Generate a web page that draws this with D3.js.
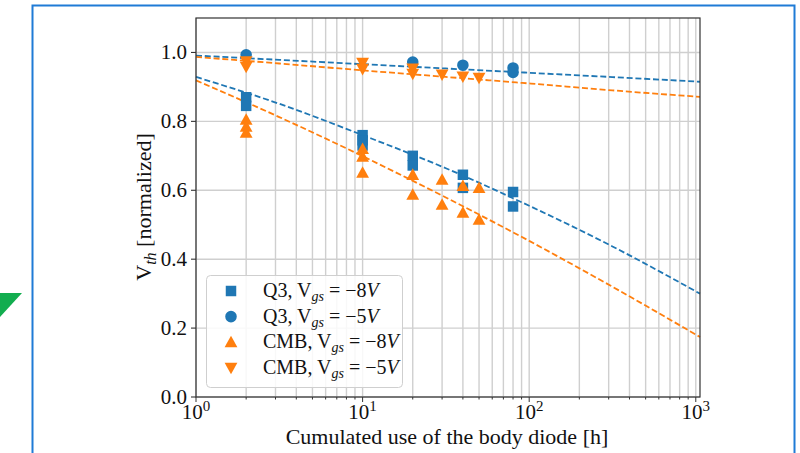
<!DOCTYPE html>
<html><head><meta charset="utf-8">
<script src="https://cdn.jsdelivr.net/npm/d3@7/dist/d3.min.js"></script>
<style>body{margin:0;background:#fff}svg{display:block}</style>
</head><body>
<svg id="c" width="800" height="453"></svg>
<script>
// ---- data ----
const q3m8X = [2, 2, 10, 10, 10, 20, 20, 40, 40, 80, 80];
const q3m8Y = [0.87, 0.845, 0.76, 0.745, 0.73, 0.70, 0.672, 0.645, 0.607, 0.595, 0.553];
const q3m5X = [2, 20, 40, 80, 80];
const q3m5Y = [0.993, 0.972, 0.963, 0.955, 0.942];
const cmbm8X = [2, 2, 2, 10, 10, 10, 20, 20, 30, 30, 40, 40, 50, 50];
const cmbm8Y = [0.805, 0.785, 0.767, 0.72, 0.698, 0.651, 0.645, 0.587, 0.631, 0.558, 0.613, 0.535, 0.607, 0.515];
const cmbm5X = [2, 2, 10, 10, 20, 20, 30, 40, 50];
const cmbm5Y = [0.974, 0.958, 0.97, 0.952, 0.953, 0.938, 0.936, 0.93, 0.926];
// fitted trend lines
const fitX = [1, 3.16, 10, 31.6, 100, 316, 1060];
const fitQ3m8 = [0.929, 0.851, 0.760, 0.664, 0.555, 0.437, 0.30];
const fitCmbm8 = [0.919, 0.8125, 0.699, 0.579, 0.453, 0.320, 0.174];
const fitQ3m5 = [0.991, 0.9785, 0.966, 0.9535, 0.941, 0.9285, 0.915];
const fitCmbm5 = [0.987, 0.968, 0.948, 0.929, 0.910, 0.890, 0.871];
const yTicks = [0, 0.2, 0.4, 0.6, 0.8, 1.0];
const xMajor = [1, 10, 100, 1000];
const xTickExp = ["0", "1", "2", "3"];
const legendLabels = [
  {pre: "Q3, V", sub: "gs", mid: " = \u22128", post: "V"},
  {pre: "Q3, V", sub: "gs", mid: " = \u22125", post: "V"},
  {pre: "CMB, V", sub: "gs", mid: " = \u22128", post: "V"},
  {pre: "CMB, V", sub: "gs", mid: " = \u22125", post: "V"}
];

const BLUE = "#1f77b4", ORANGE = "#ff7f0e";
const FONT = "'Liberation Serif','Times New Roman',serif";
const svg = d3.select("#c");

// page decorations
svg.append("polygon").attr("points", "0,293 22,293 0,317").attr("fill", "#12ad4f");
svg.append("rect").attr("x", 32.5).attr("y", 5.5).attr("width", 762).attr("height", 470)
  .attr("fill", "none").attr("stroke", "#1f7bd6").attr("stroke-width", 2);

const L = 196, R = 700, T = 18, B = 397;
const x = d3.scaleLog().domain([1, 1060]).range([L, R]);
const y = d3.scaleLinear().domain([0, 1.1]).range([B, T]);

// grid
const minor = [];
for (let e = 0; e <= 3; e++) for (let m = 1; m <= 9; m++) { const v = m * Math.pow(10, e); if (v <= 1060) minor.push(v); }
const g = svg.append("g");
g.selectAll(".gx").data(minor).enter().append("line")
  .attr("x1", d => x(d)).attr("x2", d => x(d)).attr("y1", T).attr("y2", B)
  .attr("stroke", "#cfcfcf").attr("stroke-width", 1.4);
g.selectAll(".gy").data(yTicks).enter().append("line")
  .attr("x1", L).attr("x2", R).attr("y1", d => y(d)).attr("y2", d => y(d))
  .attr("stroke", "#cfcfcf").attr("stroke-width", 1.4);

// fit lines
const line = d3.line().x(d => x(d[0])).y(d => y(d[1])).curve(d3.curveMonotoneX);
function fit(vals, col) {
  svg.append("path").datum(fitX.map((v, i) => [v, vals[i]])).attr("d", line)
    .attr("fill", "none").attr("stroke", col).attr("stroke-width", 1.8)
    .attr("stroke-dasharray", "6,2.8");
}
fit(fitQ3m8, BLUE); fit(fitQ3m5, BLUE); fit(fitCmbm8, ORANGE); fit(fitCmbm5, ORANGE);

// markers
const sym = {
  square: d3.symbol().type(d3.symbolSquare).size(110),
  circle: d3.symbol().type(d3.symbolCircle).size(105),
};
function tri(up) {
  const s = 6.4;
  return up ? `M0,${-s}L${s},${s*0.8}L${-s},${s*0.8}Z` : `M0,${s}L${s},${-s*0.8}L${-s},${-s*0.8}Z`;
}
function pts(xs, ys, col, shape) {
  svg.append("g").selectAll("path").data(xs.map((v, i) => [v, ys[i]])).enter().append("path")
    .attr("transform", d => `translate(${x(d[0])},${y(d[1])})`)
    .attr("d", shape === "up" ? tri(true) : shape === "down" ? tri(false) : sym[shape]())
    .attr("fill", col);
}
pts(q3m8X, q3m8Y, BLUE, "square");
pts(q3m5X, q3m5Y, BLUE, "circle");
pts(cmbm8X, cmbm8Y, ORANGE, "up");
pts(cmbm5X, cmbm5Y, ORANGE, "down");

// frame
svg.append("rect").attr("x", L).attr("y", T).attr("width", R - L).attr("height", B - T)
  .attr("fill", "none").attr("stroke", "#333").attr("stroke-width", 1.2);

// ticks
svg.selectAll(".yt").data(yTicks).enter().append("line")
  .attr("x1", L - 5).attr("x2", L).attr("y1", d => y(d)).attr("y2", d => y(d))
  .attr("stroke", "#333").attr("stroke-width", 1.1);
svg.selectAll(".ytl").data(yTicks).enter().append("text")
  .attr("x", L - 9).attr("y", d => y(d) + 7).attr("text-anchor", "end")
  .attr("font-family", FONT).attr("font-size", 21).attr("fill", "#111")
  .text(d => d.toFixed(1));
svg.selectAll(".xm").data(minor).enter().append("line")
  .attr("x1", d => x(d)).attr("x2", d => x(d)).attr("y1", B).attr("y2", d => B + (xMajor.includes(d) ? 5 : 2.5))
  .attr("stroke", "#333").attr("stroke-width", 1);
xMajor.forEach((v, i) => {
  const t = svg.append("text").attr("x", x(v)).attr("y", 419).attr("text-anchor", "middle")
    .attr("font-family", FONT).attr("font-size", 21).attr("fill", "#111");
  t.append("tspan").text("10");
  t.append("tspan").attr("dy", -8).attr("font-size", 15).text(xTickExp[i]);
});

// axis labels
svg.append("text").attr("x", 447).attr("y", 444).attr("text-anchor", "middle")
  .attr("font-family", FONT).attr("font-size", 22).attr("fill", "#111")
  .text("Cumulated use of the body diode [h]");
const yl = svg.append("text").attr("transform", "translate(151,207) rotate(-90)")
  .attr("text-anchor", "middle").attr("font-family", FONT).attr("font-size", 22).attr("fill", "#111");
yl.append("tspan").text("V");
yl.append("tspan").attr("dy", 5).attr("font-size", 16).attr("font-style", "italic").text("th");
yl.append("tspan").attr("dy", -5).text(" [normalized]");

// legend
svg.append("rect").attr("x", 206.5).attr("y", 275.5).attr("width", 196).attr("height", 112).attr("rx", 4)
  .attr("fill", "#fff").attr("fill-opacity", 0.85).attr("stroke", "#cfcfcf").attr("stroke-width", 1);
const shapes = [["square", BLUE], ["circle", BLUE], ["up", ORANGE], ["down", ORANGE]];
legendLabels.forEach((lab, i) => {
  const cy = 291 + i * 25.6;
  svg.append("path").attr("transform", `translate(231,${cy})`)
    .attr("d", shapes[i][0] === "up" ? tri(true) : shapes[i][0] === "down" ? tri(false) : sym[shapes[i][0]]())
    .attr("fill", shapes[i][1]);
  const t = svg.append("text").attr("x", 263).attr("y", cy + 6)
    .attr("font-family", FONT).attr("font-size", 20).attr("fill", "#111");
  t.append("tspan").text(lab.pre);
  t.append("tspan").attr("dy", 4).attr("font-size", 14).attr("font-style", "italic").text(lab.sub);
  t.append("tspan").attr("dy", -4).attr("xml:space", "preserve").text(lab.mid.replace(" = ", "\u00a0=\u00a0"));
  t.append("tspan").attr("font-style", "italic").text(lab.post);
});
</script>
</body></html>
